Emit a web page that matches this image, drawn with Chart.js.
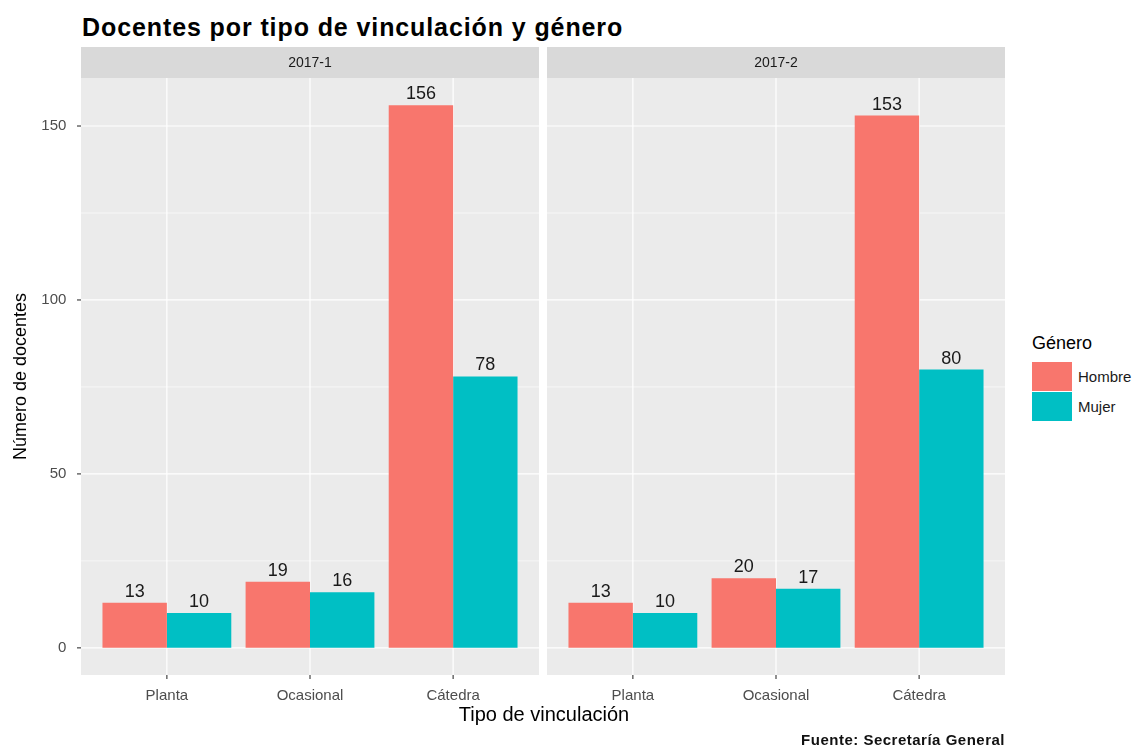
<!DOCTYPE html>
<html><head><meta charset="utf-8">
<script src="https://cdn.jsdelivr.net/npm/chart.js@4.4.1/dist/chart.umd.min.js"></script>
<style>
body{margin:0;background:#fff;width:1146px;height:750px;overflow:hidden;position:relative;font-family:"Liberation Sans",Arial,sans-serif}
.abs{position:absolute;white-space:nowrap}
</style></head><body>
<div class="abs" style="left:82px;top:13px;font-size:25px;font-weight:bold;letter-spacing:0.9px;color:#000">Docentes por tipo de vinculación y género</div>
<div class="abs" style="left:0;top:0;width:539px;height:750px"><canvas id="c1" width="539" height="750"></canvas></div>
<div class="abs" style="left:547px;top:0;width:458px;height:750px"><canvas id="c2" width="458" height="750"></canvas></div>
<div class="abs" style="left:344px;top:703px;width:400px;text-align:center;font-size:20px;color:#000">Tipo de vinculación</div>
<div class="abs" id="legTitle" style="left:1032px;top:333px;font-size:18px;color:#000"></div>
<div id="legend"></div>
<div class="abs" style="left:700px;top:731px;width:305px;text-align:right;font-size:15px;font-weight:bold;letter-spacing:0.5px;color:#111">Fuente: Secretaría General</div>
<script>
const categories = ['Planta', 'Ocasional', 'Cátedra'];
const periods = ['2017-1', '2017-2'];
const seriesNames = ['Hombre', 'Mujer'];
const hombre2017_1 = [13, 19, 156];
const mujer2017_1 = [10, 16, 78];
const hombre2017_2 = [13, 20, 153];
const mujer2017_2 = [10, 17, 80];
const yTicks = [0, 50, 100, 150];
const yMinorTicks = [25, 75, 125];
const legendTitle = 'Género';

const colors = ['#F8766D', '#00BFC4'];
const PANEL_W = 458;
const PAD = PANEL_W / 32; // 0.1 of a category unit (ggplot 0.6 expansion)
const dataMax = 156;
const yMin = -dataMax * 0.05, yMax = dataMax * 1.05;
const FONT = '"Liberation Sans", Arial, sans-serif';

document.getElementById('legTitle').textContent = legendTitle;
const leg = document.getElementById('legend');
seriesNames.forEach((n, i) => {
  const top = 362 + i * 30;
  leg.insertAdjacentHTML('beforeend',
    `<div class="abs" style="left:1032px;top:${top}px;width:40px;height:29px;background:${colors[i]}"></div>` +
    `<div class="abs" style="left:1078px;top:${top + 6}px;font-size:15px;color:#1a1a1a">${n}</div>`);
});

const panelPlugin = {
  id: 'panel',
  beforeDraw(chart, args, opts) {
    const {ctx, chartArea: a, scales: {x, y}} = chart;
    const L = a.left - PAD, R = a.right + PAD;
    ctx.save();
    ctx.fillStyle = '#EBEBEB';
    ctx.fillRect(L, a.top, R - L, a.bottom - a.top);
    ctx.strokeStyle = '#FFFFFF';
    ctx.lineWidth = 0.6;
    yMinorTicks.forEach(v => { const p = y.getPixelForValue(v); ctx.beginPath(); ctx.moveTo(L, p); ctx.lineTo(R, p); ctx.stroke(); });
    ctx.lineWidth = 1.2;
    yTicks.forEach(v => { const p = y.getPixelForValue(v); ctx.beginPath(); ctx.moveTo(L, p); ctx.lineTo(R, p); ctx.stroke(); });
    categories.forEach((c, i) => { const p = x.getPixelForValue(i); ctx.beginPath(); ctx.moveTo(p, a.top); ctx.lineTo(p, a.bottom); ctx.stroke(); });
    // strip
    ctx.fillStyle = '#D9D9D9';
    ctx.fillRect(L, 47, R - L, a.top - 47);
    ctx.fillStyle = '#1A1A1A';
    ctx.font = '14px ' + FONT;
    ctx.textAlign = 'center'; ctx.textBaseline = 'middle';
    ctx.fillText(opts.label, (L + R) / 2, (47 + a.top) / 2 + 1);
    // tick marks
    ctx.strokeStyle = '#333333'; ctx.lineWidth = 1.1;
    categories.forEach((c, i) => { const p = x.getPixelForValue(i); ctx.beginPath(); ctx.moveTo(p, a.bottom); ctx.lineTo(p, a.bottom + 4); ctx.stroke(); });
    if (opts.yTickMarks) {
      yTicks.forEach(v => { const p = y.getPixelForValue(v); ctx.beginPath(); ctx.moveTo(L - 4, p); ctx.lineTo(L, p); ctx.stroke(); });
    }
    ctx.restore();
  },
  afterDatasetsDraw(chart) {
    const {ctx} = chart;
    ctx.save();
    ctx.fillStyle = '#1A1A1A';
    ctx.font = '18px ' + FONT;
    ctx.textAlign = 'center'; ctx.textBaseline = 'bottom';
    chart.data.datasets.forEach((ds, di) => {
      chart.getDatasetMeta(di).data.forEach((el, i) => {
        ctx.fillText(String(ds.data[i]), el.x, el.y - 2);
      });
    });
    ctx.restore();
  }
};

function makeChart(id, label, hombre, mujer, first) {
  return new Chart(document.getElementById(id), {
    type: 'bar',
    data: {
      labels: categories,
      datasets: [
        {label: seriesNames[0], data: hombre, backgroundColor: colors[0], borderWidth: 0},
        {label: seriesNames[1], data: mujer, backgroundColor: colors[1], borderWidth: 0}
      ]
    },
    options: {
      responsive: false, animation: false,
      barPercentage: 1, categoryPercentage: 0.9,
      layout: {padding: {top: 78, left: first ? 0 : PAD, right: PAD, bottom: 0}},
      plugins: {legend: {display: false}, tooltip: {enabled: false}, panel: {label, yTickMarks: first}},
      scales: {
        x: {
          grid: {display: false}, border: {display: false},
          ticks: {color: '#4D4D4D', padding: 4, font: {size: 15, family: FONT}},
          afterFit(s) { s.height = 75; }
        },
        y: {
          display: first,
          min: yMin, max: yMax,
          grid: {display: false}, border: {display: false},
          afterBuildTicks(s) { s.ticks = yTicks.map(v => ({value: v})); },
          ticks: {color: '#4D4D4D', padding: 21, font: {size: 15, family: FONT}},
          title: {display: first, text: 'Número de docentes', color: '#000', padding: {top: 10, bottom: 0}, font: {size: 18, family: FONT}},
          afterFit(s) { s.width = first ? 81 + PAD : 0; }
        }
      }
    },
    plugins: [panelPlugin]
  });
}
makeChart('c1', periods[0], hombre2017_1, mujer2017_1, true);
makeChart('c2', periods[1], hombre2017_2, mujer2017_2, false);
</script>
</body></html>
